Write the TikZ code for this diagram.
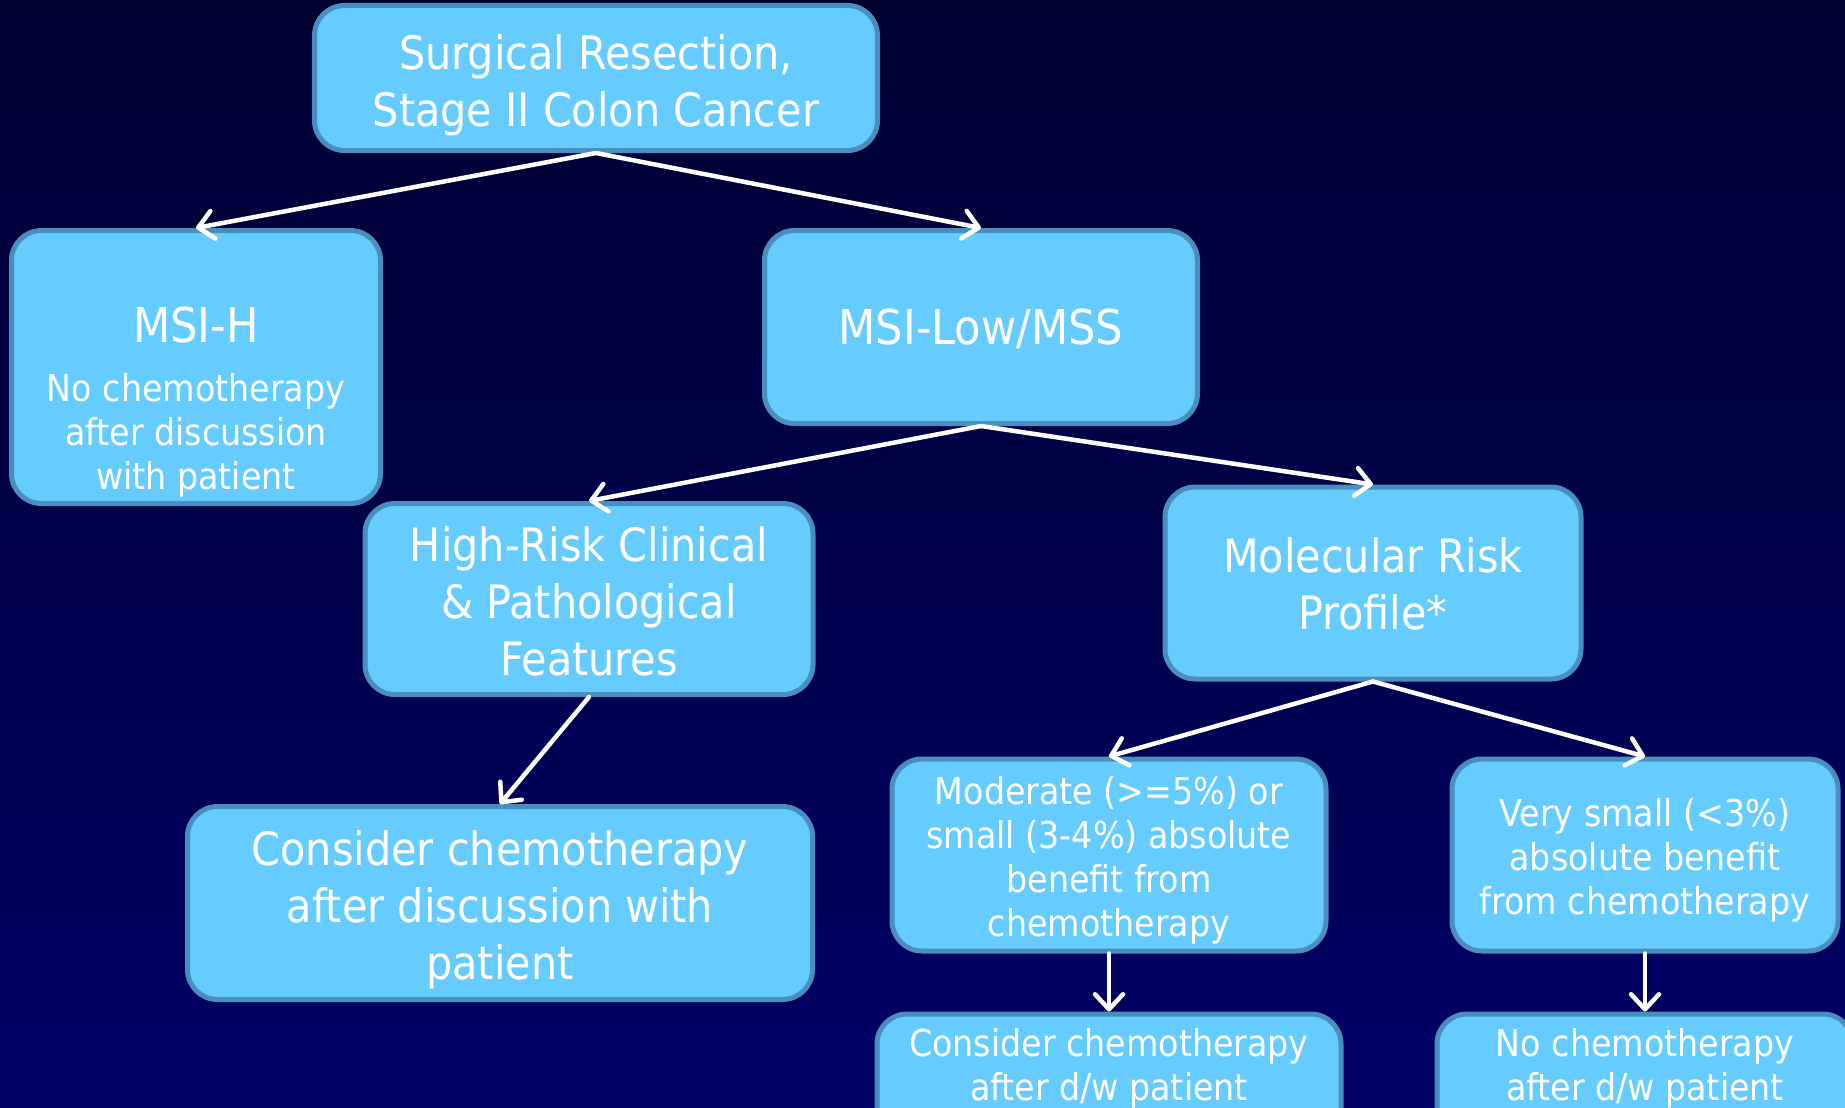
\documentclass[tikz,border=0pt]{standalone}
\usepackage{fontspec}
\setmainfont{DejaVu Sans Condensed}
\usetikzlibrary{arrows.meta,positioning}
\definecolor{boxfill}{RGB}{102,204,255}
\definecolor{boxline}{RGB}{72,142,190}
\definecolor{bgtop}{RGB}{0,0,48}
\definecolor{bgbot}{RGB}{0,0,102}
\tikzset{
  stagebox/.style={draw=boxline, line width=5pt, fill=boxfill, rounded corners=30pt, inner sep=0pt},
  bigtxt/.style={font=\fontsize{46}{57}\selectfont},
  smalltxt/.style={font=\fontsize{37}{44}\selectfont},
  plain/.style={text=white, align=center, inner sep=0pt},
  flow/.style={draw=white, line width=4.5pt, line cap=round,
    -{Straight Barb[length=15pt,width=28pt,line width=4.5pt,round]}}
}
\begin{document}
\begin{tikzpicture}[x=1pt,y=-1pt]
  \useasboundingbox (0,0) rectangle (1845,1108);
  \clip (0,0) rectangle (1845,1108);
  \shade[top color=bgtop, bottom color=bgbot] (0,0) rectangle (1845,1108);

  % first split
  \node[stagebox, minimum width=563pt, minimum height=145pt] (resection) at (596,78) {};
  \node[plain, bigtxt] (resectiontxt) at ([yshift=-7pt]resection.center)
    {Surgical Resection,\\Stage II Colon Cancer};
  \node[stagebox, minimum width=369pt, minimum height=273pt] (msih) at (196,367) {};
  \node[plain, font=\fontsize{48}{56}\selectfont, anchor=base] (msihname) at (196,342) {MSI-H};
  \node[plain, smalltxt] (msihnote) at (196,435) {No chemotherapy\\after discussion\\with patient};
  \node[stagebox, minimum width=433pt, minimum height=193pt] (mss) at (981,327) {};
  \node[plain, font=\fontsize{48}{56}\selectfont] (msstxt) at ([yshift=-2pt]mss.center) {MSI-Low/MSS};

  % MSS branch
  \node[stagebox, minimum width=448pt, minimum height=191pt] (highrisk) at (589,599) {};
  \node[plain, bigtxt] (highrisktxt) at ([yshift=-2pt]highrisk.center)
    {High-Risk Clinical\\\& Pathological\\Features};
  \node[stagebox, minimum width=416pt, minimum height=192pt] (molecular) at (1373,583) {};
  \node[plain, bigtxt] (moleculartxt) at ([yshift=-1pt]molecular.center) {Molecular Risk\\Profile*};
  \node[stagebox, minimum width=625pt, minimum height=193pt] (considerbig) at (500,903) {};
  \node[plain, bigtxt] (considerbigtxt) at ([yshift=-7pt]considerbig.center)
    {Consider chemotherapy\\after discussion with\\patient};

  % molecular profile outcomes
  \node[stagebox, minimum width=434pt, minimum height=192pt] (moderate) at (1109,855) {};
  \node[plain, smalltxt] (moderatetxt) at ([yshift=-5pt]moderate.center)
    {Moderate (>=5\%) or\\small (3-4\%) absolute\\benefit from\\chemotherapy};
  \node[stagebox, minimum width=386pt, minimum height=192pt] (verysmall) at (1645,855) {};
  \node[plain, smalltxt] (verysmalltxt) at ([yshift=-5pt]verysmall.center)
    {Very small (<3\%)\\absolute benefit\\from chemotherapy};
  \node[stagebox, minimum width=464pt, minimum height=200pt] (considersmall) at (1109,1114) {};
  \node[plain, smalltxt] (considertxt) at (1109,1068) {Consider chemotherapy\\after d/w patient};
  \node[stagebox, minimum width=416pt, minimum height=200pt] (nochemo) at (1645,1114) {};
  \node[plain, smalltxt] (nochemotxt) at (1645,1068) {No chemotherapy\\after d/w patient};

  \draw[flow] (resection.south) -- (msih.north);
  \draw[flow] (resection.south) -- (mss.north);
  \draw[flow] (mss.south) -- (highrisk.north);
  \draw[flow] (mss.south) -- (molecular.north);
  \draw[flow] (highrisk.south) -- (considerbig.north);
  \draw[flow] (molecular.south) -- (moderate.north);
  \draw[flow] (molecular.south) -- (verysmall.north);
  \draw[flow] (moderate.south) -- (considersmall.north);
  \draw[flow] (verysmall.south) -- (nochemo.north);
\end{tikzpicture}
\end{document}
